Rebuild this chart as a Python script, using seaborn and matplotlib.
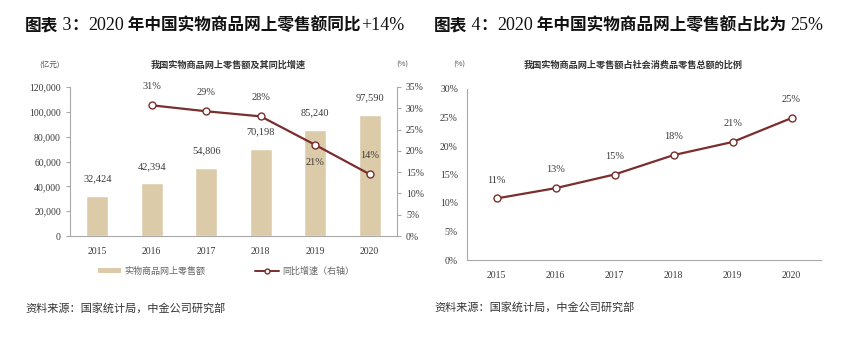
import matplotlib
matplotlib.use("Agg")
import matplotlib.pyplot as plt
import seaborn as sns
import pandas as pd
from matplotlib.ticker import FuncFormatter, FixedLocator
from matplotlib.font_manager import FontProperties
from matplotlib.patches import Patch
from matplotlib.lines import Line2D

# ---- data ----
years = ["2015", "2016", "2017", "2018", "2019", "2020"]
sales = [32424, 42394, 54806, 70198, 85240, 97590]          # 亿元
growth_years = ["2016", "2017", "2018", "2019", "2020"]
growth = [30.7, 29.3, 28.1, 21.4, 14.5]                      # %
growth_labels = ["31%", "29%", "28%", "21%", "14%"]
share = [10.8, 12.6, 15.0, 18.4, 20.7, 24.9]                 # %
share_labels = ["11%", "13%", "15%", "18%", "21%", "25%"]

BAR = "#DCCBA8"
LINE = "#7A2E2E"
SPINE = "#A8A8A8"
TXT = "#3A3A3A"

sns.set_style("white")
plt.rcParams["font.family"] = ["Liberation Serif", "Noto Sans CJK SC", "DejaVu Sans"]

W, H = 868, 350
fig = plt.figure(figsize=(8.68, 3.5), dpi=100)

cjk_b = FontProperties(family="Noto Sans CJK SC", weight="bold", size=12)
ser = FontProperties(family="Liberation Serif", size=13)
cjk_s = FontProperties(family="Noto Sans CJK SC", weight="bold", size=6.6)
cjk_n = FontProperties(family="Noto Sans CJK SC", size=6.5)
cjk_src = FontProperties(family="Noto Sans CJK SC", size=8)


def draw_pieces(x_px, y_px, pieces):
    # write mixed-font title piece by piece, left to right
    renderer = fig.canvas.get_renderer()
    x = x_px
    for txt, fp in pieces:
        t = fig.text(x / W, 1 - y_px / H, txt, fontproperties=fp,
                     color="#111111", va="center", ha="left")
        x += t.get_window_extent(renderer).width


def style_axis(ax, right=False):
    ax.spines["top"].set_visible(False)
    for s in ["left", "bottom", "right"]:
        ax.spines[s].set_color(SPINE)
        ax.spines[s].set_linewidth(0.8)
    if not right:
        ax.spines["right"].set_visible(False)
    ax.tick_params(axis="y", colors=SPINE, labelcolor=TXT, labelsize=7,
                   length=3, width=0.8, direction="out")
    ax.tick_params(axis="x", which="major", length=0, labelcolor=TXT, labelsize=7, pad=8)
    ax.xaxis.set_minor_locator(FixedLocator([i - 0.5 for i in range(len(years) + 1)]))
    ax.tick_params(axis="x", which="minor", length=3, width=0.8, colors=SPINE)
    ax.grid(False)


# ================= left chart =================
ax1 = fig.add_axes([70 / W, 1 - 236 / H, 327 / W, 149 / H])
df = pd.DataFrame({"year": years, "sales": sales})
sns.barplot(data=df, x="year", y="sales", color=BAR, saturation=1, width=0.4, ax=ax1)
ax1.set_ylim(0, 120000)
ax1.set_xlim(-0.5, 5.5)
ax1.set_yticks(range(0, 120001, 20000))
ax1.yaxis.set_major_formatter(FuncFormatter(lambda v, p: f"{v:,.0f}"))
ax1.set_xlabel("")
ax1.set_ylabel("")
style_axis(ax1)
for i, v in enumerate(sales):
    ax1.annotate(f"{v:,}", (i, v), xytext=(0, 9), textcoords="offset points",
                 ha="center", va="bottom", fontsize=7.5, color=TXT)

ax2 = ax1.twinx()
pos = [years.index(y) for y in growth_years]
sns.lineplot(x=pos, y=growth, ax=ax2, color=LINE, linewidth=1.6, marker="o",
             markersize=5, markerfacecolor="white", markeredgecolor=LINE,
             markeredgewidth=1.0)
ax2.set_ylim(0, 35)
ax2.set_xlim(-0.5, 5.5)
ax2.set_yticks(range(0, 36, 5))
ax2.yaxis.set_major_formatter(FuncFormatter(lambda v, p: f"{v:.0f}%"))
for s in ["top", "left", "bottom"]:
    ax2.spines[s].set_visible(False)
ax2.spines["right"].set_color(SPINE)
ax2.spines["right"].set_linewidth(0.8)
ax2.tick_params(axis="y", colors=SPINE, labelcolor=TXT, labelsize=7, length=3, width=0.8)
ax2.grid(False)
offs = [10, 10, 10, -16, 10]
for x, v, lab, o in zip(pos, growth, growth_labels, offs):
    ax2.annotate(lab, (x, v), xytext=(0, o), textcoords="offset points",
                 ha="center", va="bottom", fontsize=7.5, color=TXT)

handles = [Patch(facecolor=BAR, edgecolor="none"),
           Line2D([0], [0], color=LINE, linewidth=1.4, marker="o", markersize=3.5,
                  markerfacecolor="white", markeredgecolor=LINE)]
fig.legend(handles, ["实物商品网上零售额", "同比增速（右轴）"], loc="center",
           bbox_to_anchor=(226 / W, 1 - 271 / H), ncol=2, frameon=False,
           prop=cjk_n, labelcolor="#666666", handlelength=2.6, handleheight=0.5,
           columnspacing=5.5, handletextpad=0.4)

draw_pieces(25, 25, [("图表", cjk_b), (" 3", ser), ("：", cjk_b), ("2020", ser),
                     (" 年中国实物商品网上零售额同比", cjk_b), ("+14%", ser)])
fig.text(228 / W, 1 - 65 / H, "我国实物商品网上零售额及其同比增速", fontproperties=cjk_s,
         color="#333333", ha="center", va="center")
fig.text(50 / W, 1 - 65 / H, "(亿元)", fontproperties=cjk_n, color="#555555",
         ha="center", va="center", fontsize=5.5)
fig.text(402 / W, 1 - 65 / H, "(%)", fontproperties=cjk_n, color="#555555",
         ha="center", va="center", fontsize=5.5)
fig.text(25 / W, 1 - 308 / H, "资料来源：国家统计局，中金公司研究部", fontproperties=cjk_src,
         color="#333333", ha="left", va="center")

# ================= right chart =================
ax3 = fig.add_axes([467 / W, 1 - 260 / H, 354 / W, 171 / H])
sdf = pd.DataFrame({"year": years, "share": share})
sns.lineplot(data=sdf, x="year", y="share", ax=ax3, color=LINE, linewidth=1.6,
             marker="o", markersize=5, markerfacecolor="white",
             markeredgecolor=LINE, markeredgewidth=1.0)
ax3.set_ylim(0, 30)
ax3.set_xlim(-0.5, 5.5)
ax3.set_yticks(range(0, 31, 5))
ax3.yaxis.set_major_formatter(FuncFormatter(lambda v, p: f"{v:.0f}%"))
ax3.set_xlabel("")
ax3.set_ylabel("")
style_axis(ax3)
for i, (v, lab) in enumerate(zip(share, share_labels)):
    ax3.annotate(lab, (i, v), xytext=(0, 10), textcoords="offset points",
                 ha="center", va="bottom", fontsize=7.5, color=TXT)

draw_pieces(434, 25, [("图表", cjk_b), (" 4", ser), ("：", cjk_b), ("2020", ser),
                      (" 年中国实物商品网上零售额占比为 ", cjk_b), ("25%", ser)])
fig.text(633 / W, 1 - 65 / H, "我国实物商品网上零售额占社会消费品零售总额的比例",
         fontproperties=cjk_s, color="#333333", ha="center", va="center")
fig.text(459 / W, 1 - 65 / H, "(%)", fontproperties=cjk_n, color="#555555",
         ha="center", va="center", fontsize=5.5)
fig.text(434 / W, 1 - 307 / H, "资料来源：国家统计局，中金公司研究部", fontproperties=cjk_src,
         color="#333333", ha="left", va="center")

fig.savefig("out.png", dpi=100)
